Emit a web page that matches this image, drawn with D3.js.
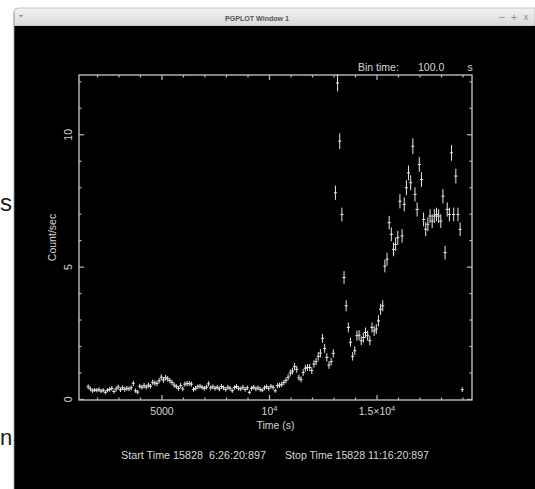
<!DOCTYPE html>
<html>
<head>
<meta charset="utf-8">
<script src="https://cdn.jsdelivr.net/npm/d3@7"></script>
<style>
  html, body { margin: 0; padding: 0; background: #fff; overflow: hidden; }
  svg { display: block; }
  text { font-family: "Liberation Sans", Arial, sans-serif; }
</style>
</head>
<body>
<svg id="chart" width="535" height="489"></svg>
<script>
// ---- light curve: count rate per 100 s bin ----
const binTime = 100;          // s
const firstBinCentre = 1590;  // s

const rates = [
  0.46,0.38,0.31,0.34,0.33,0.35,0.30,0.33,0.25,0.33,
  0.36,0.40,0.28,0.38,0.45,0.35,0.42,0.36,0.40,0.38,
  0.42,0.59,0.31,0.26,0.48,0.44,0.50,0.45,0.52,0.48,
  0.63,0.60,0.58,0.69,0.82,0.72,0.80,0.76,0.69,0.62,
  0.52,0.47,0.40,0.50,0.38,0.56,0.58,0.58,0.56,0.36,
  0.40,0.46,0.48,0.44,0.40,0.45,0.57,0.42,0.46,0.40,
  0.44,0.38,0.47,0.42,0.36,0.44,0.40,0.31,0.43,0.47,
  0.40,0.38,0.44,0.36,0.42,0.25,0.40,0.44,0.38,0.42,
  0.36,0.33,0.42,0.46,0.40,0.48,0.44,0.31,0.50,0.52,
  0.55,0.62,0.70,0.82,0.98,1.05,1.22,1.12,0.80,0.74,
  1.00,1.16,1.19,1.19,1.07,1.32,1.41,1.61,1.73,2.29,
  1.91,1.57,1.28,1.41,1.72,7.79,11.94,9.74,6.97,4.59,
  3.52,2.70,2.14,1.61,1.82,2.39,2.41,2.20,2.32,2.51,
  2.39,2.20,2.70,2.57,2.64,2.95,3.39,3.52,5.02,5.28,
  6.66,6.22,5.65,5.84,6.09,7.47,6.16,7.35,7.98,8.54,
  8.17,9.55,7.73,7.16,8.86,8.29,6.78,6.41,6.60,6.91,
  6.72,6.91,6.97,6.91,6.72,7.66,5.53,7.16,6.97,9.30,
  6.97,8.42,6.97,6.41,0.35
];

const rateErrors = [
  0.07,0.07,0.06,0.06,0.06,0.07,0.06,0.06,0.06,0.06,
  0.07,0.07,0.06,0.07,0.07,0.07,0.07,0.07,0.07,0.07,
  0.07,0.08,0.06,0.06,0.07,0.07,0.08,0.07,0.08,0.07,
  0.08,0.08,0.08,0.08,0.09,0.09,0.09,0.09,0.08,0.08,
  0.08,0.07,0.07,0.08,0.07,0.08,0.08,0.08,0.08,0.07,
  0.07,0.07,0.07,0.07,0.07,0.07,0.08,0.07,0.07,0.07,
  0.07,0.07,0.07,0.07,0.07,0.07,0.07,0.06,0.07,0.07,
  0.07,0.07,0.07,0.07,0.07,0.06,0.07,0.07,0.07,0.07,
  0.07,0.06,0.07,0.07,0.07,0.07,0.07,0.06,0.08,0.08,
  0.08,0.08,0.09,0.09,0.11,0.11,0.12,0.11,0.09,0.09,
  0.11,0.11,0.11,0.11,0.11,0.12,0.12,0.14,0.14,0.15,
  0.15,0.14,0.12,0.12,0.14,0.25,0.30,0.28,0.24,0.22,
  0.19,0.17,0.15,0.14,0.14,0.17,0.17,0.15,0.17,0.17,
  0.17,0.15,0.17,0.17,0.17,0.19,0.19,0.19,0.22,0.22,
  0.24,0.24,0.24,0.24,0.24,0.25,0.24,0.25,0.26,0.26,
  0.26,0.28,0.25,0.25,0.26,0.26,0.24,0.24,0.24,0.24,
  0.24,0.24,0.24,0.24,0.24,0.25,0.24,0.25,0.24,0.28,
  0.24,0.26,0.24,0.24,0.07
];

// ---- axes ----
const xDomain = [1163, 19442];
const yDomain = [-0.04, 12.24];
const xMajorTicks = [5000, 10000, 15000];
const xMinorTicks = [2000, 3000, 4000, 6000, 7000, 8000, 9000, 11000, 12000, 13000, 14000, 16000, 17000, 18000, 19000];
const xTickBase = ["5000", "10", "1.5\u00d710"];
const xTickExp  = ["", "4", "4"];
const yMajorTicks = [0, 5, 10];
const yMinorTicks = [1, 2, 3, 4, 6, 7, 8, 9, 11, 12];
const yTickLabels = ["0", "5", "10"];

// ---- annotation text ----
const windowTitle = "PGPLOT Window 1";
const xTitle = "Time (s)";
const yTitle = "Count/sec";
const binLabel = ["Bin time:", "100.0", "s"];
const startLabel = "Start Time 15828  6:26:20:897";
const stopLabel  = "Stop Time 15828 11:16:20:897";

// ---- drawing ----
const svg = d3.select("#chart");
const W = 535, H = 489;
const plot = { left: 79, right: 472, top: 75, bottom: 400 };
const axisColor = "#bcbcbc";
const inkColor = "#e8e8e8";
const textColor = "#d6d6d6";

svg.append("rect").attr("width", W).attr("height", H).attr("fill", "#ffffff");

// letters of the document behind the window
svg.append("text").attr("x", 0).attr("y", 211)
  .attr("font-family", "Liberation Serif, serif").attr("font-size", 24)
  .attr("fill", "#1a1a1a").text("s");
svg.append("text").attr("x", 0).attr("y", 445)
  .attr("font-family", "Liberation Serif, serif").attr("font-size", 22)
  .attr("fill", "#1a1a1a").text("n");

// window frame
const defs = svg.append("defs");
const grad = defs.append("linearGradient").attr("id", "titlebar")
  .attr("x1", 0).attr("y1", 0).attr("x2", 0).attr("y2", 1);
grad.append("stop").attr("offset", "0%").attr("stop-color", "#f2f2f2");
grad.append("stop").attr("offset", "100%").attr("stop-color", "#d9d9d9");

svg.append("path")
  .attr("d", `M14,${8 + 4} Q14,8 ${18},8 L${W},8 L${W},26 L14,26 Z`)
  .attr("fill", "url(#titlebar)").attr("stroke", "#b8b8b8").attr("stroke-width", 0.8);
svg.append("rect").attr("x", 14).attr("y", 26).attr("width", W - 14).attr("height", H - 26)
  .attr("fill", "#000");
svg.append("line").attr("x1", 14).attr("x2", 14).attr("y1", 12).attr("y2", H)
  .attr("stroke", "#9a9a9a").attr("stroke-width", 0.8);

svg.append("text").attr("x", 257).attr("y", 20.5).attr("text-anchor", "middle")
  .attr("font-family", "Open Sans, DejaVu Sans, sans-serif").attr("font-weight", 600)
  .attr("font-size", 8).attr("fill", "#555")
  .attr("textLength", 64).attr("lengthAdjust", "spacingAndGlyphs")
  .text(windowTitle);
svg.append("path").attr("d", "M19,15 L23,15 L21,17.5 Z").attr("fill", "#8a8a8a");
svg.append("text").attr("x", 502).attr("y", 20).attr("text-anchor", "middle")
  .attr("font-family", "DejaVu Sans, sans-serif").attr("font-size", 10).attr("fill", "#8a8a8a").text("\u2013");
svg.append("text").attr("x", 514).attr("y", 20.5).attr("text-anchor", "middle")
  .attr("font-family", "DejaVu Sans, sans-serif").attr("font-size", 10).attr("fill", "#8a8a8a").text("+");
svg.append("text").attr("x", 526).attr("y", 20).attr("text-anchor", "middle")
  .attr("font-family", "DejaVu Sans, sans-serif").attr("font-size", 9).attr("fill", "#8a8a8a").text("x");

// scales
const x = d3.scaleLinear().domain(xDomain).range([plot.left, plot.right]);
const y = d3.scaleLinear().domain(yDomain).range([plot.bottom, plot.top]);

const g = svg.append("g");

function styleAxis(sel) {
  sel.select(".domain").remove();
  sel.selectAll(".tick line").attr("stroke", axisColor).attr("stroke-width", 1.2);
  sel.selectAll(".tick text").attr("fill", textColor).attr("font-size", 10.5)
    .attr("font-family", "Liberation Sans, Arial, sans-serif");
}

// bottom axis (ticks point inward)
g.append("g").attr("transform", `translate(0,${plot.bottom})`)
  .call(d3.axisBottom(x).tickValues(xMinorTicks).tickSize(-2.5).tickFormat(""))
  .call(styleAxis);
const bottomMajor = g.append("g").attr("transform", `translate(0,${plot.bottom})`)
  .call(d3.axisBottom(x).tickValues(xMajorTicks).tickSize(-5).tickPadding(7.5).tickFormat(""))
  .call(styleAxis);
bottomMajor.selectAll(".tick text").each(function (d) {
  const i = xMajorTicks.indexOf(d);
  const t = d3.select(this);
  t.append("tspan").text(xTickBase[i]);
  if (xTickExp[i]) {
    t.append("tspan").attr("font-size", 7.5).attr("dy", -4).text(xTickExp[i]);
  }
});

// top axis
g.append("g").attr("transform", `translate(0,${plot.top})`)
  .call(d3.axisTop(x).tickValues(xMinorTicks).tickSize(-2.5).tickFormat(""))
  .call(styleAxis);
g.append("g").attr("transform", `translate(0,${plot.top})`)
  .call(d3.axisTop(x).tickValues(xMajorTicks).tickSize(-5).tickFormat(""))
  .call(styleAxis);

// left axis with rotated labels
g.append("g").attr("transform", `translate(${plot.left},0)`)
  .call(d3.axisLeft(y).tickValues(yMinorTicks).tickSize(-2.5).tickFormat(""))
  .call(styleAxis);
const leftMajor = g.append("g").attr("transform", `translate(${plot.left},0)`)
  .call(d3.axisLeft(y).tickValues(yMajorTicks).tickSize(-5)
    .tickFormat(d => yTickLabels[yMajorTicks.indexOf(d)]))
  .call(styleAxis);
leftMajor.selectAll(".tick text")
  .attr("transform", "rotate(-90)")
  .attr("x", 0).attr("y", -7.5).attr("dy", 0)
  .attr("text-anchor", "middle");

// right axis
g.append("g").attr("transform", `translate(${plot.right},0)`)
  .call(d3.axisRight(y).tickValues(yMinorTicks).tickSize(-2.5).tickFormat(""))
  .call(styleAxis);
g.append("g").attr("transform", `translate(${plot.right},0)`)
  .call(d3.axisRight(y).tickValues(yMajorTicks).tickSize(-5).tickFormat(""))
  .call(styleAxis);

// frame
g.append("rect")
  .attr("x", plot.left).attr("y", plot.top)
  .attr("width", plot.right - plot.left).attr("height", plot.bottom - plot.top)
  .attr("fill", "none").attr("stroke", axisColor).attr("stroke-width", 1.4);

// data crosses: vertical = rate error, horizontal = bin width
const points = rates.map((r, i) => ({
  t: firstBinCentre + i * binTime,
  r: r,
  e: rateErrors[i]
}));
const marks = g.append("g").attr("stroke", inkColor).attr("stroke-width", 1)
  .attr("stroke-linecap", "square");
marks.selectAll("line.err").data(points).join("line").attr("class", "err")
  .attr("x1", d => x(d.t)).attr("x2", d => x(d.t))
  .attr("y1", d => y(d.r - d.e)).attr("y2", d => y(d.r + d.e));
marks.selectAll("line.bin").data(points).join("line").attr("class", "bin")
  .attr("x1", d => x(d.t - binTime / 2)).attr("x2", d => x(d.t + binTime / 2))
  .attr("y1", d => y(d.r)).attr("y2", d => y(d.r));

// titles
g.append("text").attr("x", (plot.left + plot.right) / 2).attr("y", 429)
  .attr("text-anchor", "middle").attr("font-size", 10.5).attr("fill", textColor)
  .text(xTitle);
g.append("text").attr("transform", `translate(55.5,${(plot.top + plot.bottom) / 2}) rotate(-90)`)
  .attr("text-anchor", "middle").attr("font-size", 10.5).attr("fill", textColor)
  .text(yTitle);

// header
g.append("text").attr("x", 358).attr("y", 70.5).attr("font-size", 10.5).attr("fill", textColor).text(binLabel[0]);
g.append("text").attr("x", 418).attr("y", 70.5).attr("font-size", 10.5).attr("fill", textColor).text(binLabel[1]);
g.append("text").attr("x", 467.5).attr("y", 70.5).attr("font-size", 10.5).attr("fill", textColor).text(binLabel[2]);

// footer
g.append("text").attr("x", 121).attr("y", 459).attr("font-size", 10.5).attr("fill", textColor)
  .style("white-space", "pre").attr("textLength", 145).attr("lengthAdjust", "spacingAndGlyphs")
  .text(startLabel);
g.append("text").attr("x", 285).attr("y", 459).attr("font-size", 10.5).attr("fill", textColor)
  .style("white-space", "pre").attr("textLength", 144).attr("lengthAdjust", "spacingAndGlyphs")
  .text(stopLabel);
</script>
</body>
</html>
